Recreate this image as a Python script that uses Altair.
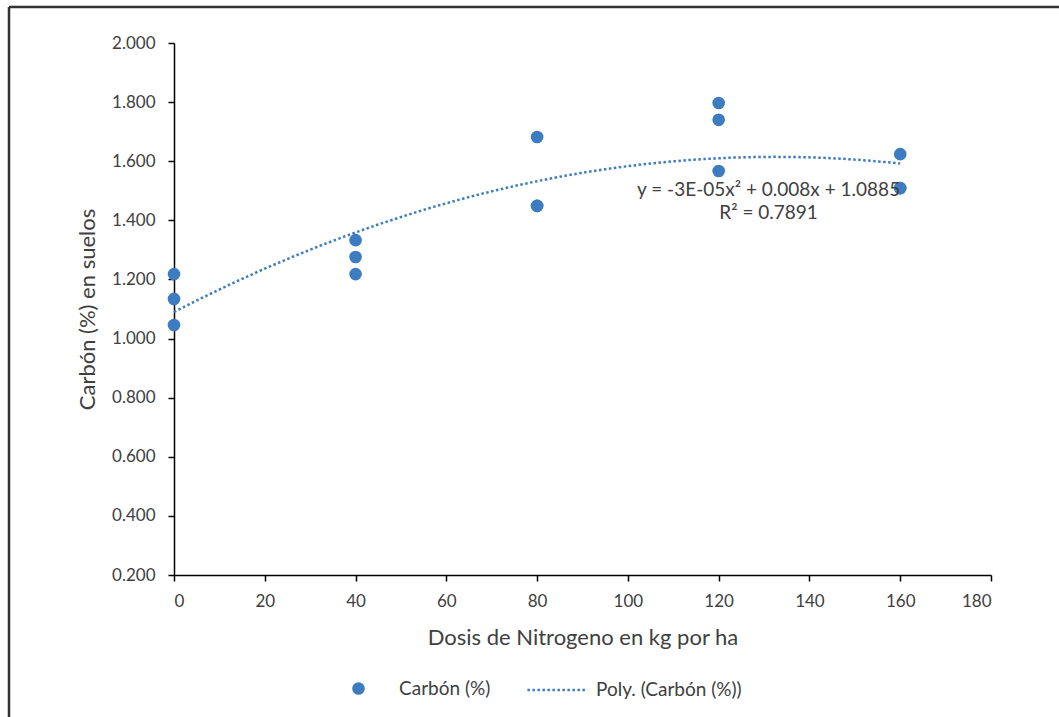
import altair as alt
import pandas as pd

# ---- data (3 replicates per dose; two overlap exactly) ----
dosis = [0, 0, 0, 40, 40, 40, 80, 80, 80, 120, 120, 120, 160, 160, 160]
carbon = [1.218, 1.134, 1.046, 1.333, 1.276, 1.218, 1.682, 1.449, 1.449,
          1.797, 1.740, 1.567, 1.624, 1.509, 1.509]
x_ticks = [0, 20, 40, 60, 80, 100, 120, 140, 160, 180]
y_ticks = [0.2, 0.4, 0.6, 0.8, 1.0, 1.2, 1.4, 1.6, 1.8, 2.0]
eq_text = ["y = -3E-05x² + 0.008x + 1.0885", "R² = 0.7891"]
eq_x = [131, 131]
eq_y = [1.503, 1.425]
series_pts = "Carbón (%)"
series_fit = "Poly. (Carbón (%))"

BLUE = "#3d7cc0"
FONT = "Lato"
GREY = "#404040"

df = pd.DataFrame({"dosis": dosis, "carbon": carbon, "serie": series_pts})
eq_df = pd.DataFrame({"t": eq_text, "x": eq_x, "y": eq_y})

xs = alt.Scale(domain=[0, 180], nice=False, zero=False)
ys = alt.Scale(domain=[0.2, 2.0], nice=False, zero=False)

x_axis = alt.Axis(values=x_ticks, title="Dosis de Nitrogeno en kg por ha",
                  grid=False, titlePadding=18, labelPadding=12)
y_axis = alt.Axis(values=y_ticks, format=".3f", title="Carbón (%) en suelos",
                  grid=False, titlePadding=12, labelPadding=13)

points = alt.Chart(df).mark_point(filled=True, size=160, opacity=1).encode(
    x=alt.X("dosis:Q", scale=xs, axis=x_axis),
    y=alt.Y("carbon:Q", scale=ys, axis=y_axis),
    color=alt.Color("serie:N", scale=alt.Scale(domain=[series_pts], range=[BLUE]),
                    legend=alt.Legend(orient="none", legendX=175, legendY=636,
                                      title=None, symbolSize=160,
                                      labelFont=FONT, labelFontSize=19,
                                      labelColor=GREY, labelOffset=31)),
)

fit = alt.Chart(df).transform_regression(
    "dosis", "carbon", method="poly", order=2, extent=[0, 160]
).transform_calculate(serie=f"'{series_fit}'").mark_line(
    strokeWidth=2.5, color=BLUE
).encode(
    x=alt.X("dosis:Q", scale=xs),
    y=alt.Y("carbon:Q", scale=ys),
    strokeDash=alt.StrokeDash("serie:N",
                              scale=alt.Scale(domain=[series_fit], range=[[2.5, 2.5]]),
                              legend=alt.Legend(orient="none", legendX=352, legendY=616,
                                                title=None, symbolSize=3500,
                                                symbolStrokeWidth=2.5,
                                                symbolStrokeColor=BLUE,
                                                labelFont=FONT, labelFontSize=19,
                                                labelColor=GREY, labelOffset=8)),
)

eq = alt.Chart(eq_df).mark_text(font=FONT, fontSize=19, color=GREY).encode(
    x=alt.X("x:Q", scale=xs), y=alt.Y("y:Q", scale=ys), text="t:N"
)

one = pd.DataFrame({"a": [0]})
border_left = alt.Chart(one).mark_rule(color="#333333", strokeWidth=2.5).encode(
    x=alt.value(-165), y=alt.value(-36), y2=alt.value(700))
border_top = alt.Chart(one).mark_rule(color="#333333", strokeWidth=2.5).encode(
    x=alt.value(-165), x2=alt.value(900), y=alt.value(-36))

chart = alt.layer(border_left, border_top, fit, points, eq).properties(
    width=817, height=532,
    autosize=alt.AutoSizeParams(type="none"),
    padding={"left": 174, "top": 43, "right": 68, "bottom": 142},
    background="white",
).configure_view(stroke=None).configure_axis(
    labelFont=FONT, titleFont=FONT, labelFontSize=17, titleFontSize=22,
    labelColor=GREY, titleColor=GREY, titleFontWeight="normal",
    domainColor="black", domainWidth=1.5, tickColor="black", tickWidth=1.5,
    tickSize=6,
)

chart.save("out.html", embed_options={"renderer": "svg", "actions": False})
